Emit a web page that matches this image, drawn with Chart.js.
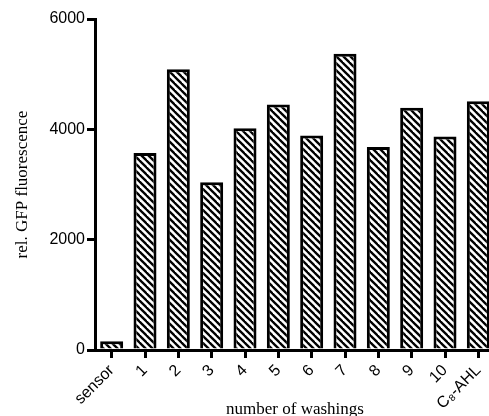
<!DOCTYPE html>
<html>
<head>
<meta charset="utf-8">
<script src="https://cdn.jsdelivr.net/npm/chart.js@4/dist/chart.umd.min.js"></script>
<style>
  html, body { margin: 0; padding: 0; background: #fff; overflow: hidden; }
  #wrap { width: 495px; height: 422px; }
</style>
</head>
<body>
<div id="wrap"><canvas id="chart" width="495" height="422"></canvas></div>
<script>
// --- datos ---
const categories = ['sensor', '1', '2', '3', '4', '5', '6', '7', '8', '9', '10', 'C₈-AHL'];
const fluorescence = [160, 3570, 5090, 3040, 4020, 4450, 3890, 5370, 3680, 4390, 3870, 4510];
const yTicks = [0, 2000, 4000, 6000];

// rayado diagonal "\\\"
function hatch() {
    const s = 7;
    const c = document.createElement('canvas');
    c.width = s; c.height = s;
    const g = c.getContext('2d');
    g.fillStyle = '#fff';
    g.fillRect(0, 0, s, s);
    g.strokeStyle = '#000';
    g.lineWidth = 2.3;
    [[0, 0], [-s, 0], [0, -s]].forEach(([dx, dy]) => {
        g.beginPath();
        g.moveTo(dx - 1, dy - 1);
        g.lineTo(dx + s + 1, dy + s + 1);
        g.stroke();
    });
    return g.createPattern(c, 'repeat');
}

const ctx = document.getElementById('chart').getContext('2d');
const axisGrid = { drawOnChartArea: false, color: '#000', lineWidth: 3, tickLength: 8, offset: false };

new Chart(ctx, {
    type: 'bar',
    data: {
        labels: categories,
        datasets: [{
            data: fluorescence,
            backgroundColor: hatch(),
            borderColor: '#000',
            borderWidth: 3,
            borderSkipped: 'start',
            barPercentage: 0.69,
            categoryPercentage: 1
        }]
    },
    options: {
        responsive: false,
        animation: false,
        layout: { padding: { top: 19, right: 0, left: 0, bottom: 0 } },
        plugins: { legend: { display: false }, tooltip: { enabled: false } },
        scales: {
            x: {
                grid: axisGrid,
                border: { display: true, color: '#000', width: 3 },
                ticks: {
                    color: '#000', padding: 3,
                    minRotation: 45, maxRotation: 45,
                    font: { family: 'Liberation Sans, Arial, sans-serif', size: 16 }
                },
                title: {
                    display: true, text: 'number of washings', color: '#000',
                    padding: { top: 0, bottom: 2 },
                    font: { family: 'Liberation Serif, Times New Roman, serif', size: 17 }
                },
                afterFit: s => { s.height = 72; }
            },
            y: {
                min: 0, max: 6000,
                grid: axisGrid,
                border: { display: true, color: '#000', width: 3 },
                afterBuildTicks: s => { s.ticks = yTicks.map(v => ({ value: v })); },
                ticks: {
                    color: '#000', padding: 2,
                    callback: v => String(v),
                    font: { family: 'Liberation Sans, Arial, sans-serif', size: 16 }
                },
                title: {
                    display: true, text: 'rel. GFP fluorescence', color: '#000',
                    padding: { top: 12, bottom: 0 },
                    font: { family: 'Liberation Serif, Times New Roman, serif', size: 17 }
                },
                afterFit: s => { s.width = 95; }
            }
        }
    }
});
</script>
</body>
</html>
